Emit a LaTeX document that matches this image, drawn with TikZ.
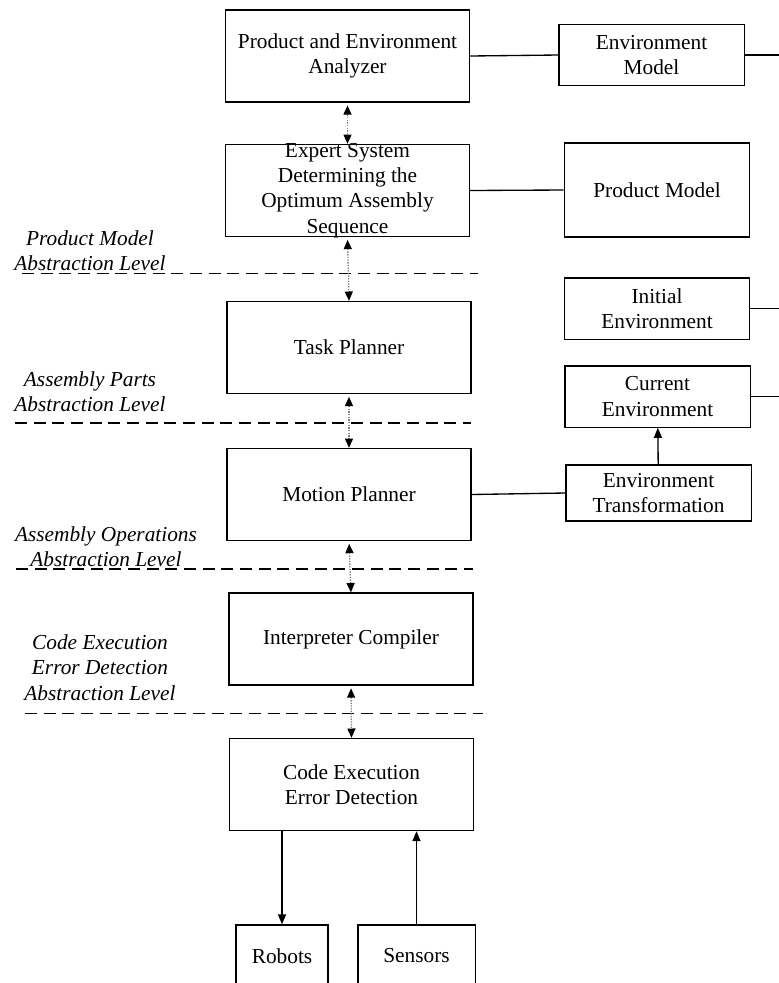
\documentclass[tikz,border=0pt]{standalone}
\usepackage{fontspec}
\setmainfont{Liberation Serif}
\usetikzlibrary{arrows.meta}
\begin{document}
\begin{tikzpicture}[x=0.75pt, y=-0.75pt, line width=1pt, font=\fontsize{16}{19}\selectfont,
	block/.style = {shape=rectangle, draw, align=center, fill=white, minimum width=183pt, minimum height=69pt},
	model/.style = {shape=rectangle, draw, align=center, fill=white, minimum width=139pt, minimum height=46pt},
	note/.style = {align=center, font=\fontsize{16}{19}\selectfont\itshape},
	tier/.style = {dash pattern=on 9pt off 5pt},
	link/.style = {draw=gray, densely dotted, shorten <=2pt, {Triangle[length=7pt,width=6pt,color=black]}-{Triangle[length=7pt,width=6pt,color=black]}},
	feed/.style = {-{Triangle[length=7.5pt,width=6pt]}}]
	\clip (0,0) rectangle (779,983);
	\coordinate (rim) at (790,0);
	\node[block] (analyzer) at (347.5,56) {Product and Environment\\Analyzer};
	\node[block, label={[align=center]center:Expert System\\Determining the\\Optimum Assembly\\Sequence}] (expert) at (347.5,190.5) {};
	\node[block] (task) at (349,347.5) {Task Planner};
	\node[block] (motion) at (349,494.5) {Motion Planner};
	\node[block] (interp) at (351,639) {Interpreter Compiler};
	\node[block] (exec) at (351.5,784.5) {Code Execution\\Error Detection};
	\node[block, minimum width=69pt, minimum height=46.5pt] (robots) at (282,956) {Robots};
	\node[block, minimum width=88pt, minimum height=46.5pt] (sensors) at (416.5,956) {Sensors};
	\node[model] (envmodel) at (651.5,55) {Environment\\Model};
	\node[model, minimum height=70.5pt] (prodmodel) at (657,190) {Product Model};
	\node[model] (initenv) at (657,308.5) {Initial\\Environment};
	\node[model] (curenv) at (657.5,396.5) {Current\\Environment};
	\node[model, minimum height=42pt] (envtrans) at (658.5,493) {Environment\\Transformation};
	\node[note] (pmlevel) at (90,250.5) {Product Model\\Abstraction Level};
	\node[note] (aplevel) at (90,391.5) {Assembly Parts\\Abstraction Level};
	\node[note] (aolevel) at (106,547) {Assembly Operations\\Abstraction Level};
	\node[note] (celevel) at (100,667.5) {Code Execution\\Error Detection\\Abstraction Level};
	\draw[tier] (22,273.5) -- (478,273.5);
	\draw[tier] (15,423) -- (471,423);
	\draw[tier] (16,569) -- (473,569);
	\draw[tier] (25,713.5) -- (483,713.5);
	\draw[link] (analyzer.south) -- (expert.north);
	\draw[link] (expert.south) -- (task.north);
	\draw[link] (task.south) -- (motion.north);
	\draw[link] (motion.south) -- (interp.north);
	\draw[link] (interp.south) -- (exec.north);
	\draw (analyzer.east) -- (envmodel.west);
	\draw (envmodel.east) -- (envmodel.east -| rim);
	\draw (expert.east) -- (prodmodel.west);
	\draw (initenv.east) -- (initenv.east -| rim);
	\draw (curenv.east) -- (curenv.east -| rim);
	\draw (motion.east) -- (envtrans.west);
	\draw[feed] (envtrans) -- (curenv);
	\draw[feed] (exec.south -| robots.north) -- (robots.north);
	\draw[feed] (sensors.north) -- (sensors.north |- exec.south);
\end{tikzpicture}
\end{document}
